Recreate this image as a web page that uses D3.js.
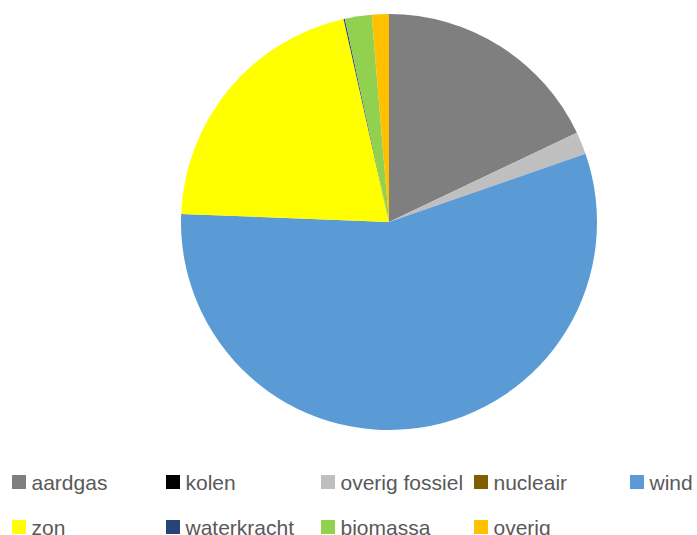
<!DOCTYPE html>
<html><head><meta charset="utf-8">
<script src="https://cdn.jsdelivr.net/npm/d3@7"></script>
<style>body{margin:0;background:#fff;overflow:hidden;} svg{display:block;}</style>
</head><body>
<script>
const categories = ["aardgas","kolen","overig fossiel","nucleair","wind","zon","waterkracht","biomassa","overig"];
const values = [17.97, 0, 1.74, 0, 56.0, 20.9, 0.1, 2.08, 1.33];
const colors = ["#7f7f7f","#000000","#bfbfbf","#7f6000","#5b9bd5","#ffff00","#264478","#92d050","#ffc000"];

const W = 697, H = 535;
const svg = d3.select("body").append("svg").attr("width", W).attr("height", H);
const cx = 389, cy = 222, r = 208;
const data = categories.map((c,i)=>({name:c, value:values[i], color:colors[i]}));
const pie = d3.pie().sort(null).value(d=>d.value);
const arc = d3.arc().innerRadius(0).outerRadius(r);
svg.append("g").attr("transform",`translate(${cx},${cy})`)
  .selectAll("path").data(pie(data)).join("path")
  .attr("d", arc).attr("fill", d=>d.data.color);

const colX = [12, 166, 321, 474, 630];
const rowY = [475, 520];
const lg = svg.append("g");
data.forEach((d,i)=>{
  const row = Math.floor(i/5), col = i%5;
  const g = lg.append("g").attr("transform",`translate(${colX[col]},${rowY[row]})`);
  g.append("rect").attr("width",14).attr("height",14).attr("fill",d.color);
  g.append("text").attr("x",19.5).attr("y",15).attr("font-family","Liberation Sans, Arial, sans-serif")
    .attr("font-size",21).attr("fill","#595959").text(d.name);
});
</script>
</body></html>
